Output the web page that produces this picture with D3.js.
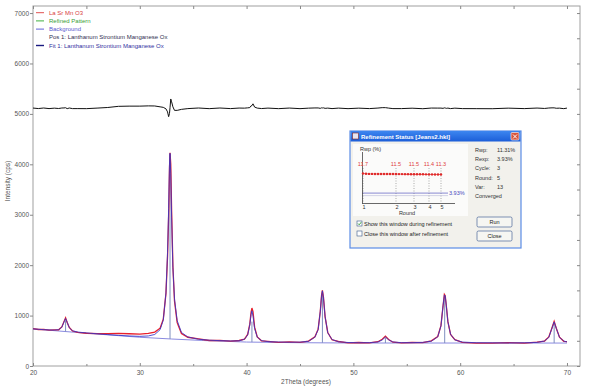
<!DOCTYPE html>
<html>
<head>
<meta charset="utf-8">
<script src="https://cdn.jsdelivr.net/npm/d3@7"></script>
<style>
  body { margin: 0; background: #fff; }
  svg { font-family: "Liberation Sans", Arial, sans-serif; }
</style>
</head>
<body>
<svg id="chart" width="589" height="390"></svg>
<script>
//2Theta positions of the sampled pattern (degrees)
const twoTheta = [20, 20.5, 21, 21.5, 22, 22.4, 22.7, 22.9, 23.05, 23.2, 23.4, 23.7, 24.2, 25, 26, 27, 28, 29, 30, 30.8,
  31.4, 31.9, 32.2, 32.45, 32.6, 32.7, 32.78, 32.83, 32.9, 32.98, 33.1, 33.25, 33.5, 33.9, 34.5, 35.5, 36.5, 37.5, 38.5, 39.3,
  39.8, 40.1, 40.3, 40.42, 40.5, 40.6, 40.75, 41, 41.4, 42, 43, 44, 45, 45.8, 46.4, 46.7, 46.9, 47.02, 47.1, 47.2,
  47.35, 47.6, 48, 48.6, 49.5, 50.5, 51.5, 52.3, 52.7, 53.0, 53.3, 53.7, 54.5, 55.5, 56.5, 57.3, 57.9, 58.2, 58.4, 58.52,
  58.6, 58.7, 58.85, 59.1, 59.5, 60.2, 61.5, 63, 64.5, 66, 67.2, 67.9, 68.3, 68.6, 68.8, 69.0, 69.3, 69.7, 70];
//observed counts (La Sr Mn O3)
const observed = [742, 724, 728, 710, 716, 718, 775, 880, 955, 862, 765, 694, 668, 650, 644, 640, 648, 640, 632, 645,
  672, 750, 930, 1440, 2180, 2960, 3900, 4230, 4000, 3080, 1980, 1290, 860, 645, 570, 538, 506, 510, 492, 506,
  534, 625, 830, 1070, 1150, 1080, 770, 575, 500, 488, 470, 478, 468, 494, 580, 730, 1080, 1400, 1498, 1360,
  980, 665, 520, 486, 460, 466, 458, 482, 530, 590, 525, 472, 458, 466, 462, 498, 585, 800, 1200, 1420,
  1392, 1200, 880, 625, 522, 470, 455, 452, 462, 455, 474, 494, 575, 760, 885, 750, 572, 490, 482];
//fitted counts (Fit 1)
const fitted = [736, 728, 721, 715, 712, 721, 768, 872, 943, 868, 758, 699, 673, 656, 639, 623, 608, 596, 588, 596,
  625, 720, 910, 1450, 2250, 3125, 4002, 4217, 3814, 2950, 1950, 1330, 900, 665, 575, 531, 512, 503, 497, 500,
  530, 615, 815, 1020, 1096, 990, 745, 570, 504, 483, 476, 472, 474, 490, 572, 722, 1080, 1390, 1490, 1350,
  980, 660, 525, 481, 466, 462, 463, 476, 516, 576, 520, 477, 463, 463, 469, 492, 580, 795, 1200, 1410,
  1385, 1200, 875, 630, 518, 475, 461, 459, 458, 460, 468, 496, 568, 750, 875, 748, 568, 496, 477];
//background control points
const bgTheta = [20, 25, 30, 33, 36, 40, 45, 50, 70];
const bgCounts = [735, 650, 570, 535, 505, 475, 462, 456, 455];
//reflection positions (Pos 1)
const posTheta = [23.05, 32.83, 40.5, 47.1, 53.0, 58.55, 68.8];
const posBase = [683, 537, 474, 460, 456, 455, 455];
const posTop = [905, 4217, 880, 1490, 560, 1410, 860];
const diffOffset = 5110;

const xTicks = [20, 30, 40, 50, 60, 70];
const yTicks = [0, 1000, 2000, 3000, 4000, 5000, 6000, 7000];

const legendItems = ["La Sr Mn O3", "Refined Pattern", "Background",
  "Pos 1: Lanthanum Strontium Manganese Ox", "Fit 1: Lanthanum Strontium Manganese Ox"];

//refinement status window data
const rwpCycles = [11.72, 11.58, 11.55, 11.54, 11.53, 11.52, 11.52, 11.51, 11.5, 11.5, 11.49, 11.48, 11.47, 11.46,
  11.45, 11.44, 11.43, 11.42, 11.41, 11.4, 11.38, 11.36, 11.35, 11.34, 11.33, 11.32, 11.31];
const roundStart = [0, 11, 17, 22, 26];
const roundRwp = ["11.7", "11.5", "11.5", "11.4", "11.3"];
const rexp = 3.93;
const statNames = ["Rwp:", "Rexp:", "Cycle:", "Round:", "Var:", "Converged"];
const statValues = ["11.31%", "3.93%", "3", "5", "13", ""];

var svg = d3.select("#chart");

//scales
var x = d3.scaleLinear().domain([20, 71.22]).range([33, 580]);
var y = d3.scaleLinear().domain([0, 7140]).range([366, 6]);

//frame
svg.append("rect").attr("x", 33).attr("y", 6).attr("width", 547).attr("height", 360)
  .attr("fill", "none").attr("stroke", "#a0a0a0");

//axes
function styleAxis(g) {
  g.select(".domain").remove();
  g.selectAll("line").attr("stroke", "#888");
  g.selectAll("text").attr("fill", "#555").attr("font-size", 6.5);
}
svg.append("g").attr("transform", "translate(0,366)")
  .call(d3.axisBottom(x).tickValues(xTicks).tickSize(-3).tickPadding(4).tickFormat(d3.format("d")))
  .call(styleAxis);
svg.append("g").attr("transform", "translate(0,366)")
  .call(d3.axisBottom(x).tickValues(d3.range(25, 71, 10)).tickSize(-2).tickFormat(""))
  .call(styleAxis);
svg.append("g").attr("transform", "translate(0,6)")
  .call(d3.axisTop(x).tickValues(d3.range(20, 71, 5)).tickSize(-3).tickFormat(""))
  .call(styleAxis);
svg.append("g").attr("transform", "translate(33,0)")
  .call(d3.axisLeft(y).tickValues(yTicks).tickSize(3).tickPadding(1).tickFormat(d3.format("d")))
  .call(styleAxis);
svg.append("g").attr("transform", "translate(580,0)")
  .call(d3.axisRight(y).tickValues(d3.range(0, 7001, 500)).tickSize(-3).tickFormat(""))
  .call(styleAxis);

//axis titles
svg.append("text").attr("x", 306).attr("y", 384).attr("text-anchor", "middle")
  .attr("font-size", 6.5).attr("fill", "#555").text("2Theta (degrees)");
svg.append("text").attr("transform", "translate(10,181) rotate(-90)").attr("text-anchor", "middle")
  .attr("font-size", 6.5).attr("fill", "#555").text("Intensity (cps)");

var line = d3.line().x((d) => x(d[0])).y((d) => y(d[1]));

//background
svg.append("path").datum(d3.zip(bgTheta, bgCounts)).attr("d", line)
  .attr("fill", "none").attr("stroke", "#8a8ae0").attr("stroke-width", 1);

//reflection markers
svg.selectAll(".pos").data(posTheta).join("line").attr("class", "pos")
  .attr("x1", (d) => x(d)).attr("x2", (d) => x(d))
  .attr("y1", (d, i) => y(posBase[i])).attr("y2", (d, i) => y(posTop[i]))
  .attr("stroke", "#7f8fbf").attr("stroke-width", 1);

//observed and fitted patterns
svg.append("path").datum(d3.zip(twoTheta, observed)).attr("d", line)
  .attr("fill", "none").attr("stroke", "#e8202c").attr("stroke-width", 1.3);
svg.append("path").datum(d3.zip(twoTheta, fitted)).attr("d", line)
  .attr("fill", "none").attr("stroke", "#3434c8").attr("stroke-width", 1).attr("stroke-opacity", 0.85);

//difference curve
var diff = d3.map(twoTheta, (t, i) => [t, observed[i] - fitted[i] + diffOffset]);
svg.append("path").datum(diff).attr("d", line)
  .attr("fill", "none").attr("stroke", "#111").attr("stroke-width", 1);

//legend
const legendColors = ["#e05050", "#40b040", "#6060d8", "#ffffff", "#1a1a80"];
const legendText = ["#d84040", "#38a038", "#5a5ad0", "#303050", "#3030a0"];
var legend = svg.append("g").selectAll("g").data(legendItems).join("g")
  .attr("transform", (d, i) => `translate(36,${12.7 + i * 8.2})`);
legend.append("line").attr("x1", 0).attr("x2", 8)
  .attr("stroke", (d, i) => legendColors[i]).attr("stroke-width", (d, i) => (i == 4 ? 1.4 : 1));
legend.append("text").attr("x", 13).attr("dy", "0.35em").attr("font-size", 6)
  .attr("fill", (d, i) => legendText[i]).text((d) => d);

//refinement status window
var win = svg.append("g");
var grad = svg.append("defs").append("linearGradient").attr("id", "titleGrad")
  .attr("x1", 0).attr("x2", 0).attr("y1", 0).attr("y2", 1);
grad.append("stop").attr("offset", 0).attr("stop-color", "#3d86f0");
grad.append("stop").attr("offset", 1).attr("stop-color", "#1c5ed8");
win.append("rect").attr("x", 350).attr("y", 131).attr("width", 171).attr("height", 117)
  .attr("fill", "#f2f1ec").attr("stroke", "#5b8de6").attr("stroke-width", 1.2);
win.append("rect").attr("x", 350.5).attr("y", 131).attr("width", 170).attr("height", 10.5)
  .attr("fill", "url(#titleGrad)");
win.append("rect").attr("x", 352.5).attr("y", 133).attr("width", 6).attr("height", 6)
  .attr("fill", "#e8e4f0").attr("stroke", "#802020").attr("stroke-width", 0.6);
win.append("text").attr("x", 361).attr("y", 139).attr("font-size", 6).attr("font-weight", "bold")
  .attr("fill", "#fff").text("Refinement Status [Jeans2.hkl]");
win.append("rect").attr("x", 511).attr("y", 132.5).attr("width", 8).attr("height", 7.5).attr("rx", 1)
  .attr("fill", "#d8553c").attr("stroke", "#fff").attr("stroke-width", 0.6);
win.append("path").attr("d", "M513,134.5 L517,138.5 M517,134.5 L513,138.5")
  .attr("stroke", "#fff").attr("stroke-width", 1);
win.append("rect").attr("x", 353).attr("y", 144).attr("width", 115).attr("height", 72)
  .attr("fill", "#fbfbfa");

//inner Rwp chart
var cx = d3.scaleLinear().domain([0, 26]).range([363, 441]);
var cy = d3.scaleLinear().domain([0, 20]).range([203, 152.6]);
win.selectAll(".rnd").data(roundStart).join("line").attr("class", "rnd")
  .attr("x1", (d) => cx(d)).attr("x2", (d) => cx(d)).attr("y1", 168).attr("y2", 203)
  .attr("stroke", "#777").attr("stroke-width", 0.6).attr("stroke-dasharray", "1,1.5");
win.append("line").attr("x1", 362).attr("x2", 448).attr("y1", cy(rexp)).attr("y2", cy(rexp))
  .attr("stroke", "#6c6cc8").attr("stroke-width", 0.8);
win.append("line").attr("x1", 362).attr("x2", 448).attr("y1", cy(rexp) + 2.5).attr("y2", cy(rexp) + 2.5)
  .attr("stroke", "#b8b8d8").attr("stroke-width", 0.6);
win.append("text").attr("x", 449).attr("y", cy(rexp) + 2).attr("font-size", 5.5)
  .attr("fill", "#4848c0").text(rexp + "%");
win.append("line").attr("x1", 362.5).attr("x2", 362.5).attr("y1", 152).attr("y2", 203.5)
  .attr("stroke", "#444").attr("stroke-width", 0.8);
win.append("line").attr("x1", 362).attr("x2", 455).attr("y1", 203.5).attr("y2", 203.5)
  .attr("stroke", "#444").attr("stroke-width", 0.8);
win.append("path").datum(rwpCycles).attr("d", d3.line().x((d, i) => cx(i)).y((d) => cy(d)))
  .attr("fill", "none").attr("stroke", "#e03030").attr("stroke-width", 0.6);
win.selectAll(".rwp").data(rwpCycles).join("circle").attr("class", "rwp")
  .attr("cx", (d, i) => cx(i)).attr("cy", (d) => cy(d)).attr("r", 1.2).attr("fill", "#e02828");
win.selectAll(".rlab").data(roundStart).join("text").attr("class", "rlab")
  .attr("x", (d) => cx(d)).attr("y", 166).attr("text-anchor", "middle").attr("font-size", 5.5)
  .attr("fill", "#e04040").text((d, i) => roundRwp[i]);
win.selectAll(".rnum").data(roundStart).join("text").attr("class", "rnum")
  .attr("x", (d) => cx(d) + 1).attr("y", 208.5).attr("text-anchor", "middle").attr("font-size", 5.5)
  .attr("fill", "#333").text((d, i) => i + 1);
win.append("text").attr("x", 407).attr("y", 214.5).attr("text-anchor", "middle").attr("font-size", 5.5)
  .attr("fill", "#333").text("Round");
win.append("text").attr("x", 360).attr("y", 151).attr("font-size", 5.5).attr("fill", "#333").text("Rwp (%)");

//statistics
win.selectAll(".sname").data(statNames).join("text").attr("class", "sname")
  .attr("x", 475).attr("y", (d, i) => 152 + i * 9.2).attr("font-size", 5.5).attr("fill", "#333").text((d) => d);
win.selectAll(".sval").data(statValues).join("text").attr("class", "sval")
  .attr("x", 497).attr("y", (d, i) => 152 + i * 9.2).attr("font-size", 5.5).attr("fill", "#333").text((d) => d);

//checkboxes
var checks = ["Show this window during refinement", "Close this window after refinement"];
var chk = win.selectAll(".chk").data(checks).join("g").attr("class", "chk")
  .attr("transform", (d, i) => `translate(357,${221 + i * 10})`);
chk.append("rect").attr("width", 5).attr("height", 5).attr("fill", "#fff")
  .attr("stroke", "#3a5a8a").attr("stroke-width", 0.6);
chk.filter((d, i) => i == 0).append("path").attr("d", "M1,2.5 L2.2,3.8 L4.2,1.2")
  .attr("fill", "none").attr("stroke", "#2a9a2a").attr("stroke-width", 0.9);
chk.append("text").attr("x", 7).attr("y", 4.5).attr("font-size", 5.5).attr("fill", "#222").text((d) => d);

//buttons
var buttons = ["Run", "Close"];
var btn = win.selectAll(".btn").data(buttons).join("g").attr("class", "btn")
  .attr("transform", (d, i) => `translate(477,${217 + i * 14})`);
btn.append("rect").attr("width", 35).attr("height", 10).attr("rx", 1.5)
  .attr("fill", "#f6f6f2").attr("stroke", "#2e4e8a").attr("stroke-width", 0.6);
btn.append("text").attr("x", 17.5).attr("y", 7).attr("text-anchor", "middle").attr("font-size", 5.5)
  .attr("fill", "#222").text((d) => d);
</script>
</body>
</html>
